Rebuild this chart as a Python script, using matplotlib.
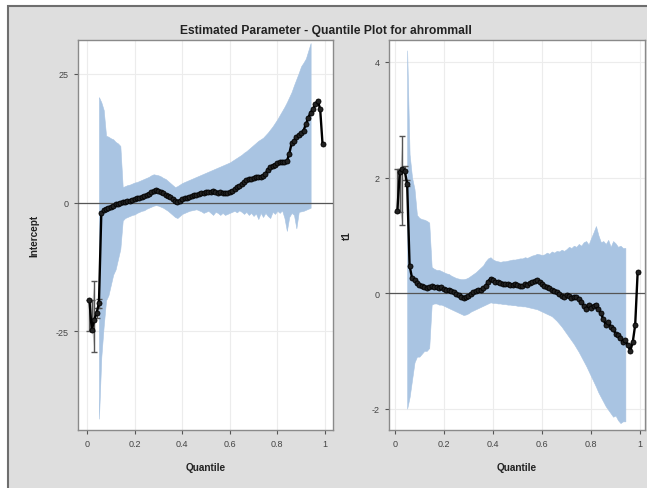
import matplotlib
matplotlib.use("Agg")
import matplotlib.pyplot as plt
from matplotlib.patches import Rectangle
import numpy as np

plt.rcParams['font.family'] = ['Liberation Sans', 'DejaVu Sans']

title = "Estimated Parameter - Quantile Plot for ahrommall"
xlabel = "Quantile"
ylabel_left = "Intercept"
ylabel_right = "t1"

# ---------- quantile levels ----------
quantiles = [0.01, 0.02, 0.03, 0.04, 0.05, 0.06, 0.07, 0.08, 0.09, 0.10,
             0.11, 0.12, 0.13, 0.14, 0.15, 0.16, 0.17, 0.18, 0.19, 0.20,
             0.21, 0.22, 0.23, 0.24, 0.25, 0.26, 0.27, 0.28, 0.29, 0.30,
             0.31, 0.32, 0.33, 0.34, 0.35, 0.36, 0.37, 0.38, 0.39, 0.40,
             0.41, 0.42, 0.43, 0.44, 0.45, 0.46, 0.47, 0.48, 0.49, 0.50,
             0.51, 0.52, 0.53, 0.54, 0.55, 0.56, 0.57, 0.58, 0.59, 0.60,
             0.61, 0.62, 0.63, 0.64, 0.65, 0.66, 0.67, 0.68, 0.69, 0.70,
             0.71, 0.72, 0.73, 0.74, 0.75, 0.76, 0.77, 0.78, 0.79, 0.80,
             0.81, 0.82, 0.83, 0.84, 0.85, 0.86, 0.87, 0.88, 0.89, 0.90,
             0.91, 0.92, 0.93, 0.94, 0.95, 0.96, 0.97, 0.98, 0.99]

# ---------- Intercept ----------
intercept_est = [-19.0, -24.8, -22.8, -21.5, -19.6, -2.0, -1.5, -1.2, -1.0, -0.9,
                 -0.6, -0.3, -0.2, 0.0, 0.1, 0.2, 0.3, 0.3, 0.5, 0.6,
                 0.8, 0.9, 1.1, 1.2, 1.5, 1.7, 2.0, 2.2, 2.4, 2.3,
                 2.1, 1.8, 1.5, 1.3, 1.0, 0.6, 0.3, 0.2, 0.4, 0.6,
                 0.8, 0.9, 1.1, 1.2, 1.4, 1.5, 1.6, 1.8, 1.9, 2.0,
                 2.0, 2.1, 2.2, 2.0, 1.9, 2.1, 1.9, 1.8, 1.8, 2.0,
                 2.2, 2.6, 3.0, 3.3, 3.6, 4.0, 4.3, 4.5, 4.6, 4.8,
                 4.9, 5.0, 5.0, 5.2, 5.6, 6.4, 6.9, 7.2, 7.4, 7.6,
                 7.8, 7.9, 7.9, 8.0, 9.5, 11.5, 12.0, 12.8, 13.2, 13.5,
                 14.0, 15.2, 16.5, 17.5, 18.2, 19.2, 19.8, 18.2, 11.4]

intercept_early_lo = [-25.0, -25.0, -29.0, -22.5, -20.5]
intercept_early_hi = [-19.0, -19.0, -15.3, -20.5, -18.8]

# band from q=0.05 to q=0.94
intercept_band_hi = [20.5, 19.5, 18.0, 13.0, 12.8, 12.5, 12.3, 11.8, 11.5, 11.0,
                     3.0, 3.2, 3.4, 3.5, 3.7, 3.9, 4.0, 4.2, 4.4, 4.6,
                     4.8, 5.0, 5.3, 5.5, 5.4, 5.3, 5.1, 4.8, 4.6, 4.2,
                     3.8, 3.4, 3.0, 3.2, 3.5, 3.8, 4.0, 4.2, 4.4, 4.6,
                     4.8, 5.0, 5.2, 5.4, 5.6, 5.8, 6.0, 6.2, 6.4, 6.6,
                     6.8, 7.0, 7.2, 7.4, 7.6, 7.8, 8.1, 8.4, 8.7, 9.0,
                     9.3, 9.7, 10.0, 10.4, 10.8, 11.2, 11.6, 12.0, 12.3, 12.6,
                     13.1, 13.6, 14.2, 14.8, 15.5, 16.2, 17.0, 17.8, 18.6, 19.5,
                     20.5, 21.5, 22.8, 24.0, 25.2, 26.5, 27.2, 28.0, 29.5, 31.0]
intercept_band_lo = [-42.0, -30.0, -24.0, -19.0, -18.0, -16.0, -14.0, -13.0, -11.0, -9.0,
                     -3.5, -3.0, -2.8, -2.6, -2.4, -2.3, -2.0, -1.8, -1.6, -1.5,
                     -1.2, -1.0, -0.8, -0.6, -0.5, -0.6, -0.8, -1.0, -1.3, -1.6,
                     -2.0, -2.4, -2.8, -3.0, -2.6, -2.2, -2.0, -1.8, -1.6, -1.5,
                     -1.4, -1.3, -1.5, -1.7, -2.0, -1.8, -1.6, -2.0, -2.4, -1.8,
                     -2.0, -2.4, -2.0, -2.4, -2.2, -2.0, -1.8, -1.6, -1.9, -1.5,
                     -1.8, -2.2, -1.8, -2.4, -2.0, -2.6, -2.1, -3.2, -2.0, -2.8,
                     -2.0, -2.6, -3.0, -1.8, -2.2, -1.6, -2.0, -1.5, -3.0, -5.5,
                     -2.8, -2.0, -2.4, -5.0, -1.8, -1.7, -1.6, -1.4, -1.2, -1.0]

# ---------- t1 ----------
t1_est = [1.42, 2.10, 2.15, 2.12, 1.89, 0.47, 0.26, 0.22, 0.18, 0.14,
          0.12, 0.10, 0.08, 0.10, 0.12, 0.11, 0.10, 0.09, 0.10, 0.07,
          0.05, 0.06, 0.03, 0.01, -0.02, -0.04, -0.06, -0.08, -0.07, -0.05,
          -0.02, 0.01, 0.03, 0.05, 0.06, 0.08, 0.12, 0.20, 0.25, 0.22,
          0.20, 0.19, 0.17, 0.16, 0.15, 0.15, 0.14, 0.14, 0.15, 0.14,
          0.13, 0.13, 0.15, 0.14, 0.17, 0.20, 0.21, 0.22, 0.20, 0.15,
          0.12, 0.10, 0.08, 0.05, 0.03, 0.01, -0.02, -0.05, -0.06, -0.04,
          -0.05, -0.08, -0.06, -0.07, -0.10, -0.15, -0.22, -0.28, -0.20, -0.25,
          -0.22, -0.20, -0.28, -0.35, -0.45, -0.55, -0.50, -0.58, -0.62, -0.70,
          -0.72, -0.78, -0.85, -0.82, -0.90, -1.00, -0.85, -0.55, 0.36]

t1_early_lo = [1.40, 1.40, 1.18, 1.95, 1.85]
t1_early_hi = [2.15, 2.15, 2.72, 2.20, 1.95]

# band from q=0.05 to q=0.94
t1_band_hi = [4.2, 2.4, 2.0, 1.8, 1.35, 1.30, 1.28, 1.27, 1.25, 1.22,
              0.45, 0.42, 0.40, 0.40, 0.38, 0.36, 0.34, 0.33, 0.30, 0.28,
              0.26, 0.25, 0.24, 0.24, 0.25, 0.27, 0.30, 0.33, 0.36, 0.40,
              0.44, 0.48, 0.55, 0.60, 0.62, 0.58, 0.56, 0.55, 0.54, 0.55,
              0.55, 0.56, 0.57, 0.58, 0.58, 0.59, 0.60, 0.60, 0.62, 0.61,
              0.63, 0.65, 0.66, 0.68, 0.67, 0.66, 0.67, 0.70, 0.68, 0.72,
              0.70, 0.73, 0.72, 0.75, 0.73, 0.76, 0.80, 0.78, 0.82, 0.80,
              0.85, 0.82, 0.88, 0.90, 0.84, 0.95, 1.05, 1.16, 1.00, 0.88,
              0.90, 0.85, 0.92, 0.80, 0.90, 0.86, 0.80, 0.82, 0.78, 0.78]
t1_band_lo = [-2.0, -1.8, -1.5, -1.2, -1.1, -1.1, -1.05, -1.0, -1.0, -0.95,
              -0.20, -0.18, -0.18, -0.20, -0.20, -0.22, -0.24, -0.26, -0.28, -0.30,
              -0.32, -0.34, -0.36, -0.38, -0.37, -0.35, -0.32, -0.30, -0.28, -0.26,
              -0.24, -0.22, -0.20, -0.18, -0.16, -0.17, -0.17, -0.18, -0.18, -0.19,
              -0.19, -0.20, -0.20, -0.21, -0.21, -0.22, -0.22, -0.23, -0.23, -0.24,
              -0.25, -0.26, -0.27, -0.28, -0.30, -0.32, -0.34, -0.36, -0.38, -0.40,
              -0.44, -0.48, -0.53, -0.58, -0.64, -0.70, -0.76, -0.82, -0.88, -0.95,
              -1.02, -1.10, -1.18, -1.26, -1.35, -1.44, -1.53, -1.62, -1.72, -1.80,
              -1.88, -1.96, -2.02, -2.08, -2.14, -2.12, -2.20, -2.25, -2.22, -2.22]

xticks = [0, 0.2, 0.4, 0.6, 0.8, 1]
xticklabels = ["0", "0.2", "0.4", "0.6", "0.8", "1"]
yticks_left = [-25, 0, 25]
yticks_right = [-2, 0, 2, 4]

# ---------- drawing ----------
band_color = '#a9c4e2'
W, H = 647, 489
fig = plt.figure(figsize=(W / 100, H / 100), dpi=100, facecolor='white')

# gray panel background with dark border (cut off at right and bottom)
fig.patches.append(Rectangle((8 / W, -0.05), 1.0, 1.05 - 7 / H, transform=fig.transFigure,
                             facecolor='#dedede', edgecolor='#6e6e6e', linewidth=1.5,
                             zorder=-10))

fig.text(326 / W, 1 - 31 / H, title, ha='center', va='center', fontsize=8.7,
         fontweight='bold', color='#222222')

q = np.array(quantiles)


def panel(rect, est, early_lo, early_hi, band_lo, band_hi, xlim, ylim, yticks, ylabel,
          ylab_x):
    ax = fig.add_axes(rect)
    ax.set_zorder(1)
    ax.set_facecolor('white')
    ax.set_xlim(*xlim)
    ax.set_ylim(*ylim)
    ax.set_xticks(xticks)
    ax.set_xticklabels(xticklabels)
    ax.set_yticks(yticks)
    ax.set_yticklabels([str(t) for t in yticks])
    ax.grid(True, color='#ececec', linewidth=0.8, zorder=0)
    ax.set_axisbelow(True)
    for s in ax.spines.values():
        s.set_color('#8a8a8a')
        s.set_linewidth(1.0)
    ax.tick_params(axis='both', labelsize=6.5, colors='#555555', length=3, width=0.8,
                   labelcolor='#444444')
    bq = q[4:4 + len(band_lo)]
    ax.fill_between(bq, band_lo, band_hi, color=band_color, edgecolor=band_color,
                    linewidth=0.4, zorder=2)
    eq = q[:5]
    ax.fill_between(eq[:3], early_lo[:3], early_hi[:3], color='#c9c9c9', linewidth=0,
                    zorder=2)
    e = np.array(est)
    ax.errorbar(eq, e[:5], yerr=[e[:5] - np.array(early_lo), np.array(early_hi) - e[:5]],
                fmt='none', ecolor='#555555', elinewidth=1.0, capsize=2, zorder=3)
    ax.axhline(0, color='#555555', linewidth=0.9, zorder=3)
    ax.plot(q, est, '-', color='black', linewidth=1.7, zorder=4)
    ax.plot(q, est, 'o', color='black', markersize=3.6, markerfacecolor='#222222',
            markeredgewidth=0.6, zorder=5)
    ax.set_xlabel(xlabel, fontsize=7.2, fontweight='bold', color='#222222', labelpad=10)
    ax.set_ylabel(ylabel, fontsize=7.2, fontweight='bold', color='#222222')
    ax.yaxis.set_label_coords(ylab_x, 0.5)
    return ax


ax1 = panel([78 / W, 1 - 431 / H, 255 / W, 390 / H], intercept_est,
            intercept_early_lo, intercept_early_hi, intercept_band_lo, intercept_band_hi,
            (-0.038, 1.034), (-44.2, 31.6), yticks_left, ylabel_left, -0.15)
ax2 = panel([389 / W, 1 - 431 / H, 256 / W, 390 / H], t1_est,
            t1_early_lo, t1_early_hi, t1_band_lo, t1_band_hi,
            (-0.024, 1.02), (-2.37, 4.38), yticks_right, ylabel_right, -0.145)

fig.savefig('out.png', dpi=100, facecolor=fig.get_facecolor())
